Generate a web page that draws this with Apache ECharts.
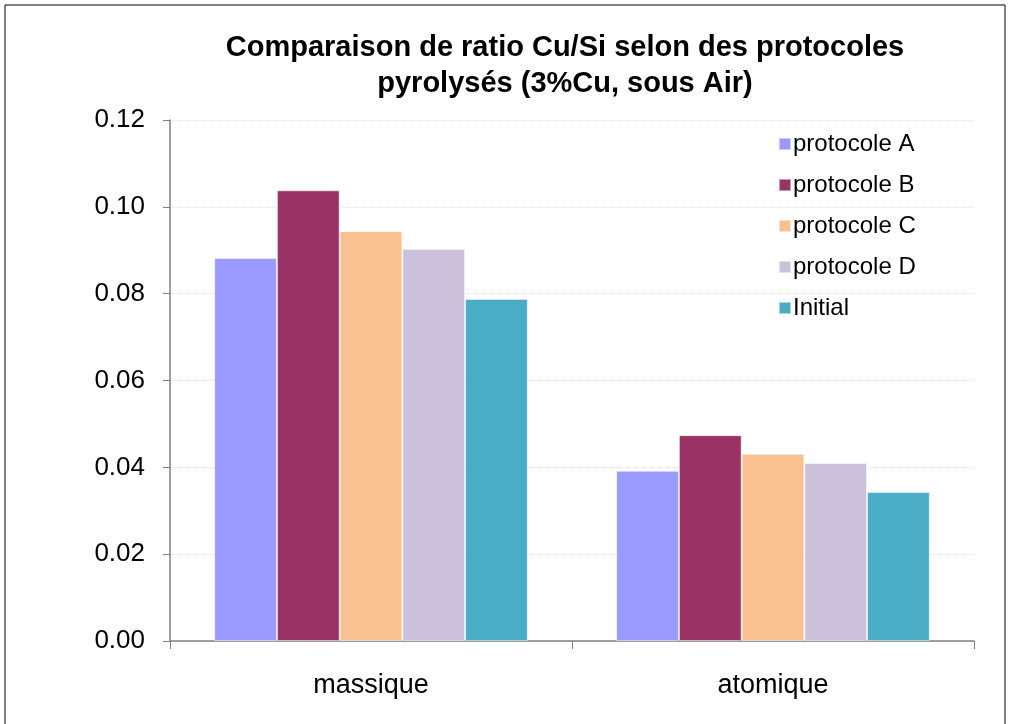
<!DOCTYPE html>
<html>
<head>
<meta charset="utf-8">
<script src="https://cdn.jsdelivr.net/npm/echarts@6/dist/echarts.min.js"></script>
<style>
  html, body { margin: 0; padding: 0; background: #fff; }
  #chart { width: 1011px; height: 724px; }
</style>
</head>
<body>
<div id="chart"></div>
<script>
// Categories and ratio values per protocol
const categories = ['massique', 'atomique'];
const seriesNames = ['protocole A', 'protocole B', 'protocole C', 'protocole D', 'Initial'];
const protocoleA = [0.0882, 0.0392];
const protocoleB = [0.1038, 0.0474];
const protocoleC = [0.0944, 0.0431];
const protocoleD = [0.0903, 0.0410];
const initial = [0.0788, 0.0343];
const colors = ['#9999FF', '#993366', '#F9C190', '#CCC1DA', '#4BACC6'];

const values = [protocoleA, protocoleB, protocoleC, protocoleD, initial];
const font = '"Liberation Sans", Arial, sans-serif';

const chart = echarts.init(document.getElementById('chart'));
chart.setOption({
  animation: false,
  backgroundColor: '#fff',
  graphic: [{
    type: 'rect',
    shape: { x: 5, y: 5, width: 1000, height: 740 },
    style: { fill: 'none', stroke: '#000', lineWidth: 1 },
    z: 100
  }],
  title: {
    text: 'Comparaison de ratio Cu/Si selon des protocoles\npyrolysés (3%Cu, sous Air)',
    left: 560,
    top: 25,
    textAlign: 'center',
    textStyle: { fontFamily: font, fontSize: 29, fontWeight: 'bold', color: '#000', lineHeight: 36 }
  },
  legend: {
    orient: 'vertical',
    left: 773,
    top: 127,
    itemWidth: 12,
    itemHeight: 12,
    itemGap: 17,
    textStyle: { fontFamily: font, fontSize: 24, color: '#000', padding: [0, 0, 0, -3] },
    icon: 'rect',
    data: seriesNames
  },
  grid: { left: 170, right: 37, top: 120, bottom: 83 },
  xAxis: {
    type: 'category',
    data: categories,
    axisLine: { lineStyle: { color: '#808080', width: 1.5 } },
    axisTick: { show: true, length: 8, lineStyle: { color: '#808080' } },
    axisLabel: { fontFamily: font, fontSize: 27, color: '#000', margin: 31 }
  },
  yAxis: {
    type: 'value',
    min: 0,
    max: 0.12,
    interval: 0.02,
    axisLine: { show: true, lineStyle: { color: '#808080', width: 1.5 } },
    axisTick: { show: true, length: 7, lineStyle: { color: '#808080' } },
    axisLabel: {
      fontFamily: font, fontSize: 26, color: '#000', margin: 25,
      formatter: v => v.toFixed(2)
    },
    splitLine: { lineStyle: { color: '#E0E0F0', type: 'dotted', width: 1 } }
  },
  series: seriesNames.map((name, i) => ({
    name: name,
    type: 'bar',
    data: values[i],
    barGap: '0%',
    barCategoryGap: '22%',
    itemStyle: { color: colors[i], borderColor: 'rgba(255,255,255,0.5)', borderWidth: 1 }
  }))
});
</script>
</body>
</html>
